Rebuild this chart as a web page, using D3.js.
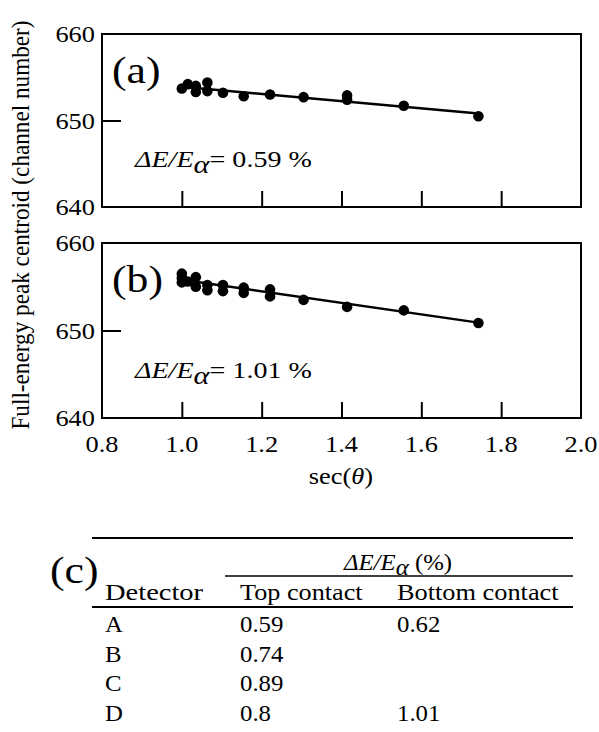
<!DOCTYPE html>
<html><head><meta charset="utf-8">
<script src="https://cdn.jsdelivr.net/npm/d3@7"></script>
<style>html,body{margin:0;padding:0;background:#fff;}svg{display:block;}</style>
</head><body>
<script>
// ---- data ----
const secA = [1.0, 1.015, 1.035, 1.035, 1.064, 1.064, 1.103, 1.155, 1.221, 1.305, 1.414, 1.414, 1.556, 1.743];
const peakA = [653.7, 654.2, 654.0, 653.3, 654.4, 653.4, 653.2, 652.8, 653.0, 652.7, 652.9, 652.4, 651.7, 650.5];
const fitSecA = [1.0, 1.743];
const fitPeakA = [653.9, 650.8];

const secB = [1.0, 1.0, 1.0, 1.015, 1.035, 1.035, 1.064, 1.064, 1.103, 1.103, 1.155, 1.155, 1.221, 1.221, 1.305, 1.414, 1.556, 1.743];
const peakB = [656.5, 656.0, 655.5, 655.6, 656.1, 655.0, 655.2, 654.6, 655.2, 654.5, 654.9, 654.3, 654.7, 653.9, 653.5, 652.7, 652.3, 650.85];
const fitSecB = [1.0, 1.743];
const fitPeakB = [655.8, 650.9];

const xTicks = [0.8, 1.0, 1.2, 1.4, 1.6, 1.8, 2.0];
const yTicks = [640, 650, 660];
const panelLabels = ["(a)", "(b)"];
const resolutions = ["0.59", "1.01"];

const detectors = ["A", "B", "C", "D"];
const topContact = ["0.59", "0.74", "0.89", "0.8"];
const bottomContact = ["0.62", "", "", "1.01"];

// ---- drawing ----
const FONT = "'Liberation Serif', 'DejaVu Serif', serif";
const W = 599, H = 732;
const svg = d3.select("body").append("svg").attr("width", W).attr("height", H)
  .attr("font-family", FONT).style("font-family", FONT);

const x = d3.scaleLinear().domain([0.8, 2.0]).range([102, 581]);

const panels = [
  {sec: secA, peak: peakA, fs: fitSecA, fp: fitPeakA, top: 34, bottom: 207, label: panelLabels[0], res: resolutions[0]},
  {sec: secB, peak: peakB, fs: fitSecB, fp: fitPeakB, top: 243, bottom: 418, label: panelLabels[1], res: resolutions[1]}
];

// text placed at (px,py), horizontally stretched by sx like the scanned original
function txt(parent, px, py, size, sx) {
  return parent.append("text")
    .attr("transform", `translate(${px},${py}) scale(${sx},1)`)
    .attr("font-family", FONT).style("font-family", FONT)
    .attr("font-size", size).attr("fill", "#000");
}

panels.forEach((p, i) => {
  const y = d3.scaleLinear().domain([640, 660]).range([p.bottom, p.top]);
  const g = svg.append("g");
  g.append("rect").attr("x", x(0.8)).attr("y", y(660)).attr("width", x(2.0) - x(0.8)).attr("height", y(640) - y(660))
    .attr("fill", "none").attr("stroke", "#000").attr("stroke-width", 2);
  const bx = d3.axisBottom(x).tickValues(xTicks.slice(1, -1)).tickSizeInner(-16).tickSizeOuter(0).tickFormat("");
  const bxg = g.append("g").attr("transform", `translate(0,${y(640)})`).call(bx);
  bxg.select(".domain").remove();
  bxg.selectAll(".tick line").attr("stroke-width", 2);
  const ly = d3.axisLeft(y).tickValues([650]).tickSizeInner(-19).tickSizeOuter(0).tickFormat("");
  const lyg = g.append("g").attr("transform", `translate(${x(0.8)},0)`).call(ly);
  lyg.select(".domain").remove();
  lyg.selectAll(".tick line").attr("stroke-width", 2);
  yTicks.forEach(v => {
    txt(g, 95, y(v), 24, 1.1).attr("dy", "0.35em").attr("text-anchor", "end").text(v);
  });
  const line = d3.line().x(d => x(d[0])).y(d => y(d[1]));
  g.append("path").datum(p.fs.map((s, k) => [s, p.fp[k]])).attr("d", line)
    .attr("fill", "none").attr("stroke", "#000").attr("stroke-width", 2.5);
  g.selectAll("circle").data(p.sec.map((s, k) => [s, p.peak[k]])).join("circle")
    .attr("cx", d => x(d[0])).attr("cy", d => y(d[1])).attr("r", 5.3).attr("fill", "#000");
  txt(g, 112, y(660) + 48.5, 38, 1.15).text(p.label);
  const t = txt(g, 135, y(640) - 40, 23, 1.22);
  t.append("tspan").attr("font-style", "italic").text("ΔE/E");
  t.append("tspan").attr("font-style", "italic").attr("dy", 6).attr("font-size", 25).text("α");
  t.append("tspan").attr("dy", -6).text("= " + p.res + " %");
});

xTicks.forEach(v => {
  txt(svg, x(v), 452, 24, 1.1).attr("text-anchor", "middle").text(v.toFixed(1));
});
const xt = txt(svg, 341, 484, 23, 1.15).attr("text-anchor", "middle");
xt.append("tspan").text("sec(");
xt.append("tspan").attr("font-style", "italic").text("θ");
xt.append("tspan").text(")");
svg.append("text").attr("transform", "translate(29,225) rotate(-90) scale(1,1.1)").attr("text-anchor", "middle")
  .attr("font-family", FONT).style("font-family", FONT).attr("fill", "#000")
  .attr("font-size", 23.2).text("Full-energy peak centroid (channel number)");

// ---- table (c) ----
const tg = svg.append("g");
txt(tg, 50, 583, 38, 1.15).text("(c)");
tg.append("line").attr("x1", 92).attr("x2", 573).attr("y1", 538).attr("y2", 538).attr("stroke", "#000").attr("stroke-width", 2);
const hd = txt(tg, 398, 570, 23, 1.08).attr("text-anchor", "middle");
hd.append("tspan").attr("font-style", "italic").text("ΔE/E");
hd.append("tspan").attr("font-style", "italic").attr("dy", 5).attr("font-size", 23).text("α");
hd.append("tspan").attr("dy", -5).text(" (%)");
tg.append("line").attr("x1", 225).attr("x2", 573).attr("y1", 576).attr("y2", 576).attr("stroke", "#000").attr("stroke-width", 1.5);
const colX = [105, 240, 397];
const headers = ["Detector", "Top contact", "Bottom contact"];
const headerSX = [1.24, 1.14, 1.145];
headers.forEach((h, j) => txt(tg, colX[j], 600, 23, headerSX[j]).text(h));
tg.append("line").attr("x1", 92).attr("x2", 573).attr("y1", 607).attr("y2", 607).attr("stroke", "#000").attr("stroke-width", 2);
const rowY = d3.scalePoint().domain(detectors).range([632, 721]);
detectors.forEach((d, i) => {
  [d, topContact[i], bottomContact[i]].forEach((v, j) => {
    txt(tg, colX[j], rowY(d), 23, 1.08).text(v);
  });
});
</script>
</body></html>
